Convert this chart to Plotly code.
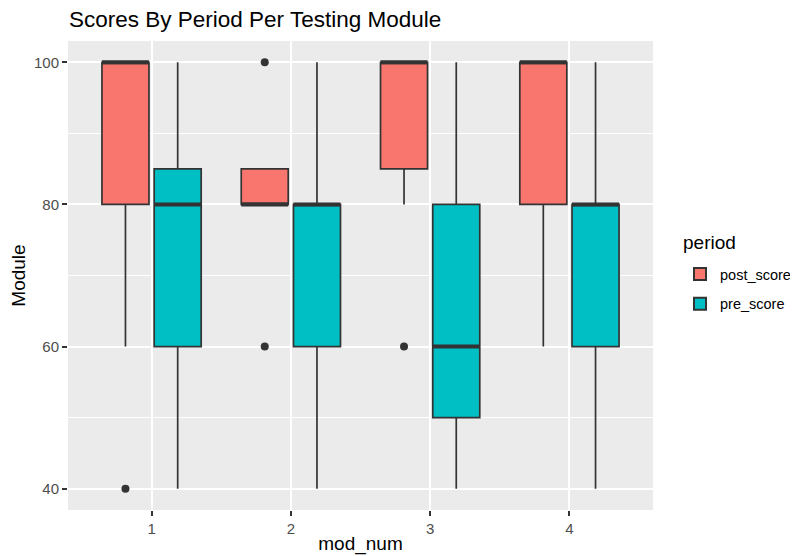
import plotly.graph_objects as go

modules = [1, 2, 3, 4]
periods = ["post_score", "pre_score"]

post_q1 = [80, 80, 85, 80]
post_median = [100, 80, 100, 100]
post_q3 = [100, 85, 100, 100]
post_lower = [60, 80, 80, 60]
post_upper = [100, 85, 100, 100]
post_outliers = [[40], [100, 60], [60], []]

pre_q1 = [60, 60, 50, 60]
pre_median = [80, 80, 60, 80]
pre_q3 = [85, 80, 80, 80]
pre_lower = [40, 40, 40, 40]
pre_upper = [100, 100, 100, 100]
pre_outliers = [[], [], [], []]

y_ticks = [40, 60, 80, 100]

colors = {"post_score": "#F8766D", "pre_score": "#00BFC4"}
LINE = "#333333"

stats = {
    "post_score": (post_q1, post_median, post_q3, post_lower, post_upper, post_outliers),
    "pre_score": (pre_q1, pre_median, pre_q3, pre_lower, pre_upper, pre_outliers),
}

fig = go.Figure()
for p in periods:
    q1, med, q3, lo, hi, outl = stats[p]
    has_pts = any(len(o) > 0 for o in outl)
    fig.add_trace(go.Box(
        name=p, x=modules, y=outl if has_pts else None,
        q1=q1, median=med, q3=q3,
        lowerfence=lo, upperfence=hi, orientation="v",
        offsetgroup=p, alignmentgroup="a", legendgroup=p,
        fillcolor=colors[p], line=dict(color=LINE, width=1.7),
        whiskerwidth=0, boxpoints="outliers" if has_pts else False,
        jitter=0, pointpos=0,
        marker=dict(color=LINE, size=8, line=dict(width=0)),
        showlegend=True, hoverinfo="skip",
    ))
for p in periods:
    q1, med, q3, lo, hi, outl = stats[p]
    fig.add_trace(go.Box(
        name=p + "_median", x=modules, q1=med, median=med, q3=med,
        lowerfence=med, upperfence=med, orientation="v",
        offsetgroup=p, alignmentgroup="a",
        fillcolor="rgba(0,0,0,0)", line=dict(color=LINE, width=4),
        whiskerwidth=0, boxpoints=False,
        showlegend=False, hoverinfo="skip",
    ))

W, H = 790, 548
L, R, T, B = 60, 145, 33, 46
PW, PH = W - L - R, H - T - B

fig.add_annotation(text="period", xref="paper", yref="paper",
                   x=(673 - L) / PW, y=(H - B - 234) / PH, xanchor="left", yanchor="middle",
                   showarrow=False, font=dict(size=19, color="black"))

fig.update_layout(
    width=W, height=H,
    margin=dict(l=L, r=R, t=T, b=B, autoexpand=False),
    paper_bgcolor="white", plot_bgcolor="#EBEBEB",
    boxmode="group", boxgap=0.25, boxgroupgap=0.1,
    font=dict(family="Liberation Sans, Arial, sans-serif", color="black"),
    title=dict(text="Scores By Period Per Testing Module", x=(L + 1) / W, xanchor="left",
               y=1 - 11 / H, yanchor="middle", font=dict(size=22.5, color="black")),
    legend=dict(font=dict(size=14.5, color="black"),
                x=(672 - L) / PW, xanchor="left", y=(H - B - 250) / PH, yanchor="top",
                bgcolor="rgba(0,0,0,0)", tracegroupgap=8, traceorder="grouped",
                itemsizing="constant"),
    xaxis=dict(range=[0.4, 4.6], tickvals=modules, ticktext=[str(m) for m in modules],
               automargin=True,
               showgrid=True, gridcolor="white", gridwidth=2, zeroline=False,
               ticks="outside", ticklen=5, tickwidth=2, tickcolor=LINE,
               tickfont=dict(size=15, color="#4D4D4D"), showline=False,
               title=dict(text="mod_num", font=dict(size=19), standoff=0)),
    yaxis=dict(range=[37, 103], tickvals=y_ticks, ticktext=[str(v) for v in y_ticks],
               automargin=True,
               showgrid=True, gridcolor="white", gridwidth=2, zeroline=False,
               minor=dict(showgrid=True, gridcolor="white", gridwidth=1, dtick=10, tick0=0),
               ticks="outside", ticklen=5, tickwidth=2, tickcolor=LINE,
               tickfont=dict(size=15, color="#4D4D4D"), showline=False,
               title=dict(text="Module", font=dict(size=19), standoff=6)),
)

fig.write_html("out.html")
